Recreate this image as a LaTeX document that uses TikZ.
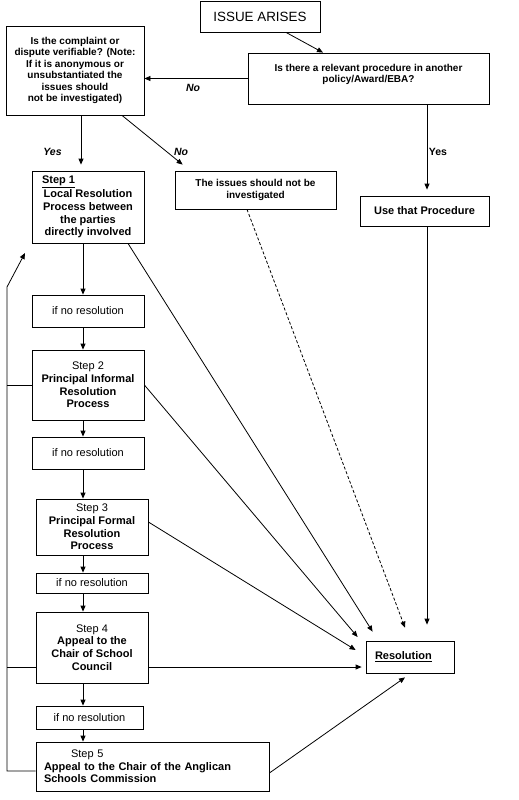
\documentclass[tikz,border=0pt]{standalone}
\usepackage{fontspec}
\setmainfont{Liberation Sans}
\usetikzlibrary{arrows.meta}

\newcommand{\stepfont}{\fontsize{11}{12.6}\selectfont}
\newcommand{\notefont}{\fontsize{10}{11.5}\selectfont\bfseries}

\tikzset{
  box/.style={draw, line width=0.8pt, fill=white, inner sep=2pt, align=center, font=\stepfont},
  arr/.style={-{Triangle[length=6pt,width=5pt]}, line width=0.8pt},
  lbl/.style={font=\fontsize{10.5}{12}\selectfont\bfseries\itshape, inner sep=0pt}
}

\begin{document}
\begin{tikzpicture}[x=1pt,y=-1pt]
    \useasboundingbox[fill=white] (0,0) rectangle (519,800);

    % Top questions
    \node[box, minimum width=120pt, minimum height=31pt, font=\fontsize{13.4}{15}\selectfont] (issue) at (260,16.5) {ISSUE ARISES};
    \node[box, minimum width=138pt, minimum height=89pt, font=\notefont] (verify) at (75,70.5)
        {Is the complaint or\\dispute verifiable? (Note:\\If it is anonymous or\\unsubstantiated the\\issues should\\not be investigated)};
    \node[box, minimum width=241pt, minimum height=51pt] (relevant) at (368.5,78.5) {};
    \node[align=center, font=\notefont] (relevanttext) at (368.5,74.5)
        {Is there a relevant procedure in another\\policy/Award/EBA?};

    % Outcome boxes
    \node[box, minimum width=161pt, minimum height=38pt, font=\notefont] (noinv) at (255.5,190)
        {The issues should not be\\investigated};
    \node[box, minimum width=129pt, minimum height=30pt, font=\stepfont\bfseries] (useproc) at (424.5,211) {Use that Procedure};
    \node[box, minimum width=88pt, minimum height=32pt, text width=70pt, align=left, font=\stepfont\bfseries] (resol) at (410,657)
        {\underline{Resolution}};

    % Steps
    \node[box, minimum width=112pt, minimum height=72pt, font=\stepfont\bfseries] (step1) at (88,207)
        {\makebox[92pt][l]{\underline{Step 1}}\\[1.5pt]Local Resolution\\Process between\\the parties\\directly involved};
    \node[box, minimum width=112pt, minimum height=32pt] (nores1) at (88,311) {if no resolution};
    \node[box, minimum width=112pt, minimum height=70pt] (step2) at (88,385)
        {Step 2\\\textbf{Principal Informal}\\\textbf{Resolution}\\\textbf{Process}};
    \node[box, minimum width=112pt, minimum height=32pt] (nores2) at (88,453) {if no resolution};
    \node[box, minimum width=112pt, minimum height=56pt, inner sep=1pt] (step3) at (92,527)
        {Step 3\\\textbf{Principal Formal}\\\textbf{Resolution}\\\textbf{Process}};
    \node[box, minimum width=112pt, minimum height=20pt, inner sep=0pt] (nores3) at (92,583) {if no resolution};
    \node[box, minimum width=112pt, minimum height=71pt] (step4) at (92,647.5)
        {Step 4\\\textbf{Appeal to the}\\\textbf{Chair of School}\\\textbf{Council}};
    \node[box, minimum width=107pt, minimum height=23pt, inner sep=0pt] (nores4) at (89.5,717.5) {if no resolution};
    \node[box, minimum width=233pt, minimum height=49pt, text width=217pt, align=left] (step5) at (152.5,766.5)
        {\hspace*{27pt}Step 5\\\textbf{Appeal to the Chair of the Anglican}\\\textbf{Schools Commission}};

    % Top arrows
    \coordinate (yescol) at (81,0);
    \coordinate (proccol) at (427,0);
    \draw[arr] ([xshift=26pt]issue.south) -- ([xshift=-45.5pt]relevant.north);
    \draw[arr] (relevant.west) -- (relevant.west -| verify.east);
    \node[lbl] (lblno1) at (193,88) {No};
    \draw[arr, shorten >=6pt] (verify.south -| yescol) -- (step1.north -| yescol);
    \node[lbl] (lblyes1) at (52.5,152) {Yes};
    \draw[arr] ([xshift=47pt]verify.south) -- ([xshift=8pt,yshift=6pt]noinv.north west);
    \node[lbl] (lblno2) at (181,152) {No};
    \draw[arr, shorten >=6pt] (relevant.south -| proccol) -- (useproc.north -| proccol);
    \node[lbl, font=\fontsize{10.5}{12}\selectfont\bfseries] (lblyes2) at (438,152) {Yes};

    % Step chain
    \coordinate (chain) at (83,0);
    \foreach \a/\b in {step1/nores1, nores1/step2, step2/nores2, nores2/step3,
                       step3/nores3, nores3/step4, step4/nores4, nores4/step5}
        \draw[arr] (\a.south -| chain) -- (\b.north -| chain);

    % Into resolution
    \draw[arr] ([xshift=40pt]step1.south) -- ([xshift=7pt,yshift=9pt]resol.north west);
    \draw[arr] (step2.east) -- ([xshift=-8pt,yshift=20pt]resol.west);
    \draw[arr] ([yshift=5pt]step3.east) -- ([xshift=-10pt,yshift=7pt]resol.west);
    \draw[arr] ([yshift=-19.5pt]step4.east) -- ([xshift=-4pt,yshift=-10pt]resol.west);
    \draw[arr] ([yshift=-6.5pt]step5.east) -- ([xshift=-5pt,yshift=-4pt]resol.south);
    \draw[arr, dash pattern=on 3pt off 2pt] ([xshift=-8.5pt]noinv.south) -- ([xshift=-5pt,yshift=13pt]resol.north);
    \draw[arr] (useproc.south -| proccol) -- ([xshift=17pt,yshift=16pt]resol.north);

    % Back to step 1
    \coordinate (loopbot) at (7,771);
    \coordinate (looptop) at (7,287);
    \coordinate (looptip) at (25,253);
    \draw[arr] ([yshift=-4.5pt]step5.west) -- (loopbot) -- (looptop) -- (looptip);
    \draw[line width=0.8pt] (step2.west) -- (step2.west -| loopbot);
    \draw[line width=0.8pt] ([yshift=-19.5pt]step4.west) -- ++(-29pt,0);
\end{tikzpicture}
\end{document}
